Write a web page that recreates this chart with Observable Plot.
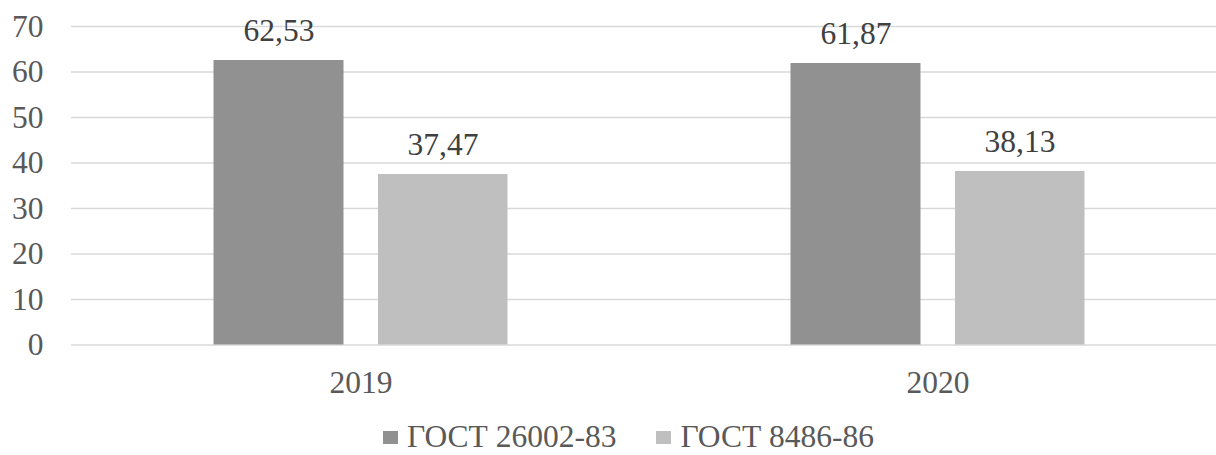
<!DOCTYPE html>
<html>
<head>
<meta charset="utf-8">
<script src="https://cdn.jsdelivr.net/npm/d3@7"></script>
<script src="https://cdn.jsdelivr.net/npm/@observablehq/plot@0.6"></script>
<style>
  html, body { margin: 0; padding: 0; background: #fff; }
  body { width: 1216px; height: 455px; overflow: hidden; position: relative; font-family: "Liberation Serif", "DejaVu Serif", serif; }
  #legend { position: absolute; left: 383px; top: 423px; display: flex; align-items: center; font-size: 31.5px; line-height: 28px; height: 28px; color: #595959; white-space: nowrap; }
  .item { display: flex; align-items: center; margin-right: 40px; }
  .sw { width: 15px; height: 13px; margin-right: 9px; flex: none; }
</style>
</head>
<body>
<div id="chart"></div>
<div id="legend"></div>
<script>
const years = ["2019", "2020"];
const seriesNames = ["ГОСТ 26002-83", "ГОСТ 8486-86"];
const gost26002 = [62.53, 61.87];
const gost8486 = [37.47, 38.13];
const yTicks = [0, 10, 20, 30, 40, 50, 60, 70];
const colors = ["#919191", "#bfbfbf"];

const rows = [];
years.forEach((y, i) => {
  rows.push({year: y, series: seriesNames[0], value: gost26002[i]});
  rows.push({year: y, series: seriesNames[1], value: gost8486[i]});
});
const fmt = v => v.toFixed(2).replace(".", ",");
const s0 = rows.filter(d => d.series === seriesNames[0]);
const s1 = rows.filter(d => d.series === seriesNames[1]);
const FONT = '"Liberation Serif", "DejaVu Serif", serif';
const FS = 31.5;

const chart = Plot.plot({
  width: 1216,
  height: 405,
  marginLeft: 71,
  marginRight: 0,
  marginTop: 26,
  marginBottom: 60.5,
  style: {fontFamily: FONT, fontSize: FS + "px", background: "#fff"},
  x: {type: "band", domain: years, range: [71.5, 1225.5], padding: 0, label: null},
  y: {domain: [0, 70], range: [344.5, 26], label: null},
  color: {domain: seriesNames, range: colors},
  marks: [
    Plot.ruleY(yTicks, {stroke: "#d9d9d9", strokeWidth: 1.5}),
    Plot.barY(s0, {x: "year", y: "value", fill: "series", insetLeft: 141.5, insetRight: 305.5}),
    Plot.barY(s1, {x: "year", y: "value", fill: "series", insetLeft: 306, insetRight: 141.5}),
    Plot.text(s0, {x: "year", y: "value", text: d => fmt(d.value), dx: -82, dy: -30, fill: "#404040", fontSize: FS, fontFamily: FONT}),
    Plot.text(s1, {x: "year", y: "value", text: d => fmt(d.value), dx: 82, dy: -30, fill: "#404040", fontSize: FS, fontFamily: FONT}),
    Plot.axisY({ticks: yTicks, tickSize: 0, tickPadding: 28, fill: "#595959", fontSize: FS, fontFamily: FONT, label: null}),
    Plot.axisX({tickSize: 0, tickPadding: 26, fill: "#595959", fontSize: FS, fontFamily: FONT, label: null})
  ]
});
chart.style.display = "block";
document.getElementById("chart").appendChild(chart);

const legend = document.getElementById("legend");
seriesNames.forEach((name, i) => {
  const item = document.createElement("div");
  item.className = "item";
  const sw = document.createElement("span");
  sw.className = "sw";
  sw.style.background = colors[i];
  const t = document.createElement("span");
  t.textContent = name;
  item.appendChild(sw);
  item.appendChild(t);
  legend.appendChild(item);
});
</script>
</body>
</html>
